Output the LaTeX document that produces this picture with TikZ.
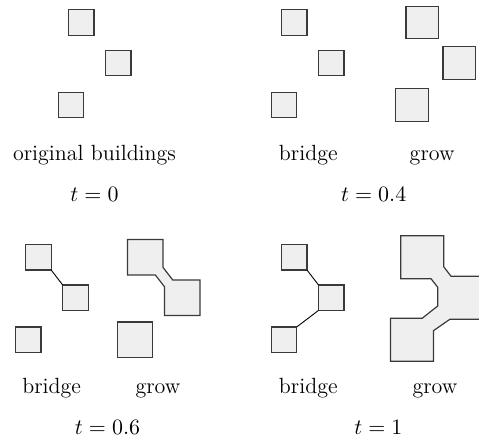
\documentclass[tikz,border=0pt]{standalone}
\usetikzlibrary{positioning}
\definecolor{cfill}{HTML}{EFEFEF}
\definecolor{cedge}{HTML}{3A3A3A}
\tikzset{
  every picture/.style={line width=0.6pt},
  building/.style={draw=cedge, fill=cfill, minimum size=#1, inner sep=0pt, outer sep=0pt},
  building/.default=12.75pt,
  merged/.style={draw=cedge, fill=cfill, line join=miter},
  bridgeline/.style={draw=black, line width=0.45pt},
  caption/.style={font=\fontsize{11}{13}\selectfont, anchor=base},
}
\begin{document}
\begin{tikzpicture}[x=0.5pt, y=-0.5pt]
  \clip (0,0) rectangle (479,444);
  % t = 0
  \node[building] (o1) at (81.2,22.5) {};
  \node[building] (o2) at (118.2,63) {};
  \node[building] (o3) at (71,105) {};
  \node[caption] (lo) at (94.5,160.7) {original buildings};
  \node[caption] (to) at (94.5,201.7) {$t = 0$};

  % t = 0.4
  \node[building] (a1) at (294.2,22.5) {};
  \node[building] (a2) at (331.2,63) {};
  \node[building] (a3) at (284,105) {};
  \node[building=16.25pt] (ga1) at (422.2,22.5) {};
  \node[building=16.25pt] (ga2) at (459.2,63) {};
  \node[building=16.25pt] (ga3) at (412,105) {};
  \node[caption] (la) at (308.3,160.7) {bridge};
  \node[caption] (lga) at (432.2,160.7) {grow};
  \node[caption] (ta) at (373.7,201.7) {$t = 0.4$};

  % t = 0.6
  \node[building] (b1) at (38.4,257.2) {};
  \node[building] (b2) at (75.4,297.7) {};
  \node[building] (b3) at (28.2,339.7) {};
  \draw[bridgeline] (b1.south east) -- (b2.north west);
  \draw[merged] (127.45,239.45) -- (162.95,239.45) -- (162.95,267.3) -- (172.7,279.95)
    -- (199.95,279.95) -- (199.95,315.45) -- (164.45,315.45) -- (164.45,286.7)
    -- (155.3,274.95) -- (127.45,274.95) -- cycle;
  \node[building=17.75pt] (gb3) at (135,339.7) {};
  \node[caption] (lb) at (51.7,393.3) {bridge};
  \node[caption] (lgb) at (158,393.3) {grow};
  \node[caption] (tb) at (107.5,435) {$t = 0.6$};

  % t = 1
  \node[building] (c1) at (294.2,257.2) {};
  \node[building] (c2) at (331.2,297.7) {};
  \node[building] (c3) at (284,339.7) {};
  \draw[bridgeline] (c1.south east) -- (c2.north west);
  \draw[bridgeline] (c2.south west) -- (c3.north east);
  \draw[merged] (400.7,235.7) -- (443.7,235.7) -- (443.7,266.7) -- (451,276.2)
    -- (480.7,276.2) -- (480.7,319.2) -- (450,319.2) -- (433.5,330.7)
    -- (433.5,361.2) -- (390.5,361.2) -- (390.5,318.2) -- (422.3,318.2)
    -- (437.7,306) -- (437.7,287.3) -- (431,278.7) -- (400.7,278.7) -- cycle;
  \node[caption] (lc) at (308.3,393.3) {bridge};
  \node[caption] (lgc) at (435,393.3) {grow};
  \node[caption] (tc) at (378.3,435) {$t = 1$};
\end{tikzpicture}
\end{document}
